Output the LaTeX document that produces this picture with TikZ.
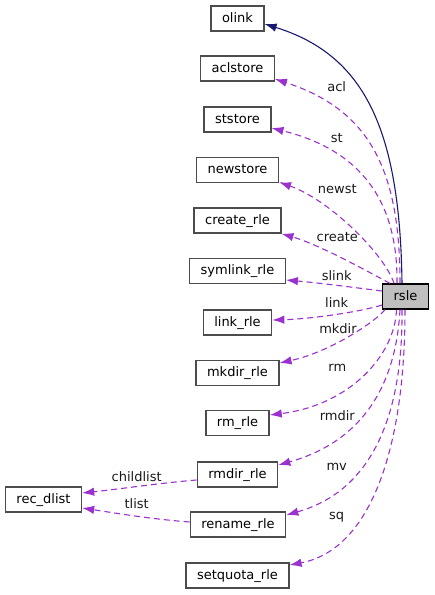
\documentclass[tikz,border=0pt]{standalone}
\usepackage{fontspec}
\setsansfont{DejaVu Sans}
\usetikzlibrary{arrows.meta}
\definecolor{navy}{HTML}{191970}
\definecolor{orchid}{HTML}{9A32CD}

\begin{document}
\begin{tikzpicture}[x=1pt,y=-1pt,->,>={Latex[length=12pt,width=8.5pt]},
  class node/.style={rectangle,draw=black!70,fill=white,line width=1.3pt,
    font=\sffamily\fontsize{13}{15}\selectfont,text height=9.5pt,text depth=2.5pt,
    minimum height=25pt,inner xsep=11pt},
  main node/.style={class node,draw=black,fill=black!25},
  use edge/.style={draw=orchid,line width=1.1pt,dash pattern=on 6pt off 4pt},
  base edge/.style={draw=navy,line width=1.1pt},
  edge label/.style={font=\sffamily\fontsize{13}{15}\selectfont,text=black!90}]

  \useasboundingbox (0,0) rectangle (435,595);

  \node[main node] (rsle) at (405.5,296.5) {rsle};
  \node[class node] (olink) at (237.5,18.5) {olink};
  \node[class node] (aclstore) at (237.5,68.5) {aclstore};
  \node[class node] (ststore) at (237.5,119.5) {ststore};
  \node[class node] (newstore) at (237.5,170) {newstore};
  \node[class node] (create) at (237.5,220.5) {create\_rle};
  \node[class node] (symlink) at (237.5,271) {symlink\_rle};
  \node[class node] (link) at (237.5,322.5) {link\_rle};
  \node[class node] (mkdir) at (237.5,373) {mkdir\_rle};
  \node[class node] (rm) at (237.5,423) {rm\_rle};
  \node[class node] (rmdir) at (237.5,474.5) {rmdir\_rle};
  \node[class node] (rename) at (238,524.5) {rename\_rle};
  \node[class node] (setquota) at (237.5,575.5) {setquota\_rle};
  \node[class node] (recdlist) at (43.5,499.5) {rec\_dlist};

  % inheritance
  \draw[base edge] ([xshift=-3.5pt]rsle.north) .. controls (400,130) and (365,55) .. ([yshift=-5.5pt]olink.east);

  % members
  \draw[use edge] ([xshift=-5.5pt]rsle.north) .. controls (400,170) and (370,110) .. ([yshift=-10.5pt]aclstore.east);
  \draw[use edge] ([xshift=-8.5pt]rsle.north) .. controls (398,200) and (360,150) .. ([yshift=-8.5pt]ststore.east);
  \draw[use edge] ([xshift=-11.5pt]rsle.north) .. controls (385,255) and (330,200) .. ([yshift=1pt]newstore.south east);
  \draw[use edge] ([xshift=-15.5pt]rsle.north) .. controls (365,270) and (320,245) .. (create.south east);
  \draw[use edge] ([yshift=5.5pt]rsle.west) .. controls (350,287) and (320,283) .. ([yshift=-9pt]symlink.east);
  \draw[use edge] ([yshift=-8.5pt]rsle.west) .. controls (360,312) and (310,319) .. ([yshift=2.5pt]link.east);
  \draw[use edge] ([xshift=3pt]rsle.south west) .. controls (375,322) and (330,352) .. ([yshift=10pt]mkdir.east);
  \draw[use edge] ([xshift=-9pt]rsle.south) .. controls (395,355) and (350,405) .. ([yshift=8pt]rm.east);
  \draw[use edge] ([xshift=-5.5pt]rsle.south) .. controls (395,400) and (350,445) .. ([yshift=9.5pt]rmdir.east);
  \draw[use edge] ([xshift=-3.5pt]rsle.south) .. controls (403,410) and (375,490) .. ([yshift=9.5pt]rename.east);
  \draw[use edge] ([xshift=-0.5pt]rsle.south) .. controls (405,450) and (370,550) .. ([yshift=10.5pt]setquota.east);
  \draw[use edge] ([yshift=-5.5pt]rmdir.west) .. controls (160,483) and (120,489) .. ([yshift=6.5pt]recdlist.east);
  \draw[use edge] ([yshift=2.5pt]rename.west) .. controls (150,519) and (115,513) .. ([yshift=-8.5pt]recdlist.east);

  % labels
  \node[edge label] at (336.7,86.7) {acl};
  \node[edge label] at (336.7,138.3) {st};
  \node[edge label] at (337.3,189) {newst};
  \node[edge label] at (337.3,236.7) {create};
  \node[edge label] at (336.7,276) {slink};
  \node[edge label] at (336.7,302.7) {link};
  \node[edge label] at (338,329) {mkdir};
  \node[edge label] at (337.3,367.7) {rm};
  \node[edge label] at (337.3,416) {rmdir};
  \node[edge label] at (336.7,466.7) {mv};
  \node[edge label] at (336.7,517.3) {sq};
  \node[edge label] at (136.7,476.7) {childlist};
  \node[edge label] at (136.7,503.3) {tlist};
\end{tikzpicture}
\end{document}
